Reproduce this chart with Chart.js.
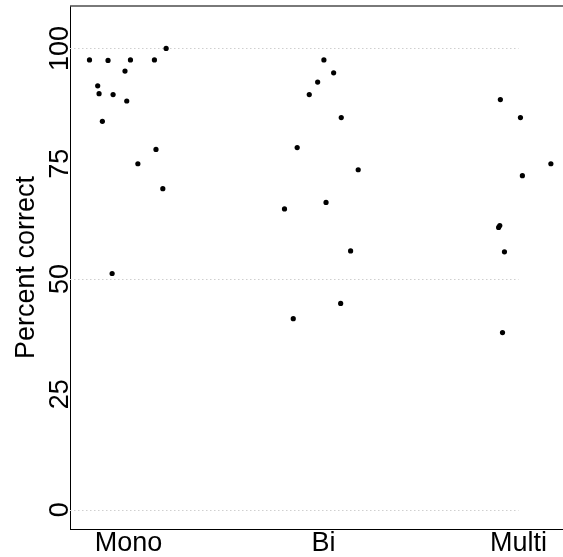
<!DOCTYPE html>
<html>
<head>
<meta charset="utf-8">
<script src="https://cdn.jsdelivr.net/npm/chart.js@4"></script>
<style>
  body { margin: 0; background: #fff; overflow: hidden; }
  #clip { width: 563px; height: 557px; overflow: hidden; }
  #box { width: 600px; height: 557px; }
</style>
</head>
<body>
<div id="clip"><div id="box"><canvas id="jitterChart"></canvas></div></div>
<script>
// categories and their positions on the x axis
const categories = ['Mono', 'Bi', 'Multi'];
const categoryPos = [1, 2, 3];
const yTicks = [0, 25, 50, 75, 100];
const gridValues = [0, 50, 100];

// jittered x position and percent correct for each group
const monoX = [0.80, 0.895, 1.01, 1.133, 1.193, 0.982, 0.842, 0.849, 0.921, 0.991, 0.866, 1.141, 1.048, 1.176, 0.916];
const monoY = [97.5, 97.4, 97.5, 97.5, 100, 95.1, 91.9, 90.2, 90.0, 88.6, 84.2, 78.1, 75.0, 69.6, 51.2];
const biX = [2.002, 2.052, 1.970, 1.927, 2.091, 1.865, 2.178, 2.013, 1.800, 2.139, 2.088, 1.845];
const biY = [97.5, 94.7, 92.7, 90.0, 85.0, 78.5, 73.7, 66.6, 65.2, 56.1, 44.7, 41.4];
const multiX = [2.907, 3.010, 3.166, 3.020, 2.898, 2.904, 2.928, 2.918];
const multiY = [88.9, 85.0, 75.0, 72.4, 61.2, 61.6, 55.9, 38.4];

const FONT = "'Liberation Sans', Arial, Helvetica, sans-serif";

function toPoints(xs, ys) {
  return xs.map((x, i) => ({ x: x, y: ys[i] }));
}

const allPoints = [].concat(toPoints(monoX, monoY), toPoints(biX, biY), toPoints(multiX, multiY));

// dotted grid lines, top border and rotated y tick labels
const decorations = {
  id: 'decorations',
  beforeDatasetsDraw(chart) {
    const ctx = chart.ctx;
    const xs = chart.scales.x;
    const ys = chart.scales.y;
    ctx.save();
    ctx.strokeStyle = '#cfcfcf';
    ctx.lineWidth = 1;
    ctx.setLineDash([1.5, 2.5]);
    gridValues.forEach(v => {
      const py = Math.round(ys.getPixelForValue(v)) + 0.5;
      ctx.beginPath();
      ctx.moveTo(xs.getPixelForValue(xs.min), py);
      ctx.lineTo(xs.getPixelForValue(categoryPos[categoryPos.length - 1]), py);
      ctx.stroke();
    });
    ctx.restore();
  },
  afterDraw(chart) {
    const ctx = chart.ctx;
    const area = chart.chartArea;
    const ys = chart.scales.y;
    ctx.save();
    ctx.strokeStyle = '#4d4d4d';
    ctx.lineWidth = 1.5;
    ctx.beginPath();
    ctx.moveTo(area.left, area.top);
    ctx.lineTo(area.right, area.top);
    ctx.stroke();

    ctx.fillStyle = '#000';
    ctx.font = '27px ' + FONT;
    ctx.textAlign = 'center';
    ctx.textBaseline = 'alphabetic';
    ys.ticks.forEach(t => {
      ctx.save();
      ctx.translate(68, ys.getPixelForValue(t.value));
      ctx.rotate(-Math.PI / 2);
      ctx.fillText(String(t.value), 0, 0);
      ctx.restore();
    });
    ctx.restore();
  }
};

new Chart(document.getElementById('jitterChart'), {
  type: 'scatter',
  data: {
    datasets: [{
      data: allPoints,
      backgroundColor: '#000',
      borderColor: '#000',
      pointRadius: 2.6,
      pointHoverRadius: 2.6,
      borderWidth: 0
    }]
  },
  options: {
    responsive: true,
    maintainAspectRatio: false,
    animation: false,
    layout: { padding: { top: 6, right: 23, left: 0, bottom: 0 } },
    plugins: { legend: { display: false }, tooltip: { enabled: false } },
    scales: {
      x: {
        type: 'linear',
        min: 0.7,
        max: 3.3,
        afterBuildTicks: s => { s.ticks = categoryPos.map(v => ({ value: v })); },
        afterFit: s => { s.height = 28; },
        grid: { display: false, drawTicks: false },
        border: { display: true, color: '#000', width: 1 },
        ticks: {
          padding: -2,
          color: '#000',
          font: { size: 27, family: FONT },
          callback: v => categories[categoryPos.indexOf(v)]
        }
      },
      y: {
        min: -4.2,
        max: 109.2,
        afterBuildTicks: s => { s.ticks = yTicks.map(v => ({ value: v })); },
        afterFit: s => { s.width = 70; },
        grid: { display: false, drawTicks: false },
        border: { display: true, color: '#000', width: 1 },
        ticks: { display: false },
        title: {
          display: true,
          text: 'Percent correct',
          color: '#000',
          font: { size: 27, family: FONT },
          padding: { top: 10, bottom: 0 }
        }
      }
    }
  },
  plugins: [decorations]
});
</script>
</body>
</html>
